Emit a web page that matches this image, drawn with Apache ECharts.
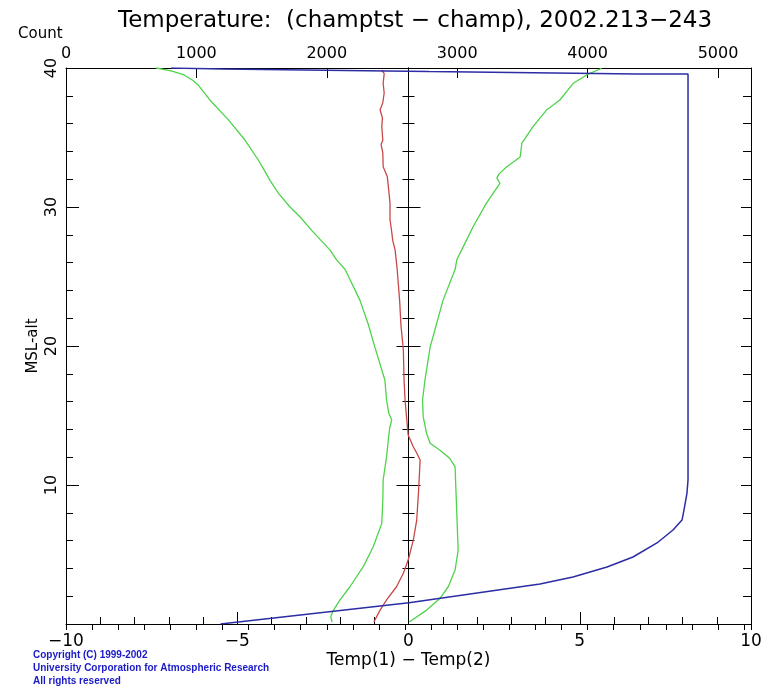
<!DOCTYPE html>
<html>
<head>
<meta charset="utf-8">
<script src="https://cdn.jsdelivr.net/npm/echarts@6/dist/echarts.min.js"></script>
<style>
  html, body { margin: 0; padding: 0; background: #fff; }
  #chart { width: 777px; height: 689px; }
</style>
</head>
<body>
<div id="chart"></div>
<script>
// Altitude profiles (km MSL) of the temperature difference champtst - champ

// Mean difference (red)
const meanAlt = [0.14, 1.0, 1.73, 2.68, 3.65, 4.6, 6.04, 7.48, 9.4, 11.8, 12.3, 12.75, 13.6, 14.7, 16.1, 17.55,
  19.7, 21.5, 23.3, 25.5, 26.2, 26.9, 27.6, 28.4, 29.1, 30.3, 31.5, 32.2, 32.9, 33.9, 34.5, 34.8, 35.8, 36.4,
  37.0, 37.5, 38.2, 38.9, 39.6, 39.85];
const meanDiff = [-1.01, -0.83, -0.64, -0.35, -0.15, -0.01, 0.14, 0.24, 0.29, 0.34, 0.24, 0.14, -0.01, -0.05, -0.10, -0.13,
  -0.15, -0.22, -0.26, -0.33, -0.36, -0.39, -0.46, -0.50, -0.54, -0.54, -0.59, -0.62, -0.74, -0.75, -0.80, -0.75, -0.78, -0.76,
  -0.83, -0.75, -0.71, -0.74, -0.71, -0.78];

// Mean minus one standard deviation (left green)
const lowAlt = [0.14, 0.53, 1.0, 1.73, 2.68, 4.12, 5.56, 7.24, 8.92, 10.36, 12.04, 13.24, 14.1, 14.68, 15.2, 16.1, 17.55,
  19.9, 21.6, 23.3, 25.5, 26.2, 26.9, 28.3, 29.3, 30.0, 31.0, 31.9, 32.6, 33.4, 34.8, 36.3, 37.7, 38.8, 39.1, 39.5, 39.8, 40.0];
const lowDiff = [-2.23, -2.27, -2.19, -2.0, -1.71, -1.32, -1.03, -0.78, -0.75, -0.74, -0.64, -0.59, -0.55, -0.49, -0.58, -0.64, -0.69,
  -0.98, -1.18, -1.42, -1.85, -2.10, -2.29, -2.82, -3.17, -3.46, -3.80, -4.04, -4.20, -4.39, -4.77, -5.27, -5.80, -6.15, -6.29, -6.55, -6.93, -7.37];

// Mean plus one standard deviation (right green)
const highAlt = [0.14, 1.0, 1.85, 2.68, 3.88, 5.32, 7.96, 11.3, 11.9, 12.5, 13.0, 13.7, 14.9, 16.1, 17.55,
  19.9, 21.6, 23.3, 25.5, 26.2, 27.4, 28.6, 30.3, 31.7, 32.1, 32.4, 32.9, 33.6, 34.6, 35.8, 37.0, 37.7, 38.9, 39.5, 39.98];
const highDiff = [0.02, 0.53, 0.92, 1.16, 1.36, 1.45, 1.41, 1.36, 1.21, 0.92, 0.63, 0.53, 0.43, 0.41, 0.48,
  0.63, 0.82, 1.01, 1.36, 1.41, 1.65, 1.89, 2.28, 2.67, 2.58, 2.65, 2.87, 3.26, 3.31, 3.64, 4.04, 4.42, 4.81, 5.20, 5.64];

// Number of samples per level (blue, top axis)
const countAlt = [0.0, 1.53, 2.88, 3.38, 4.10, 4.82, 5.83, 6.76, 7.48, 8.2, 9.42, 10.36,
  39.57, 39.57, 39.66, 39.66, 39.74, 39.74, 39.83, 39.83, 39.92, 39.92, 40.0, 40.0];
const countVal = [1185, 2630, 3635, 3888, 4149, 4348, 4532, 4655, 4724, 4739, 4762, 4770,
  4770, 4379, 4379, 3581, 3581, 2784, 2784, 1986, 1986, 1204, 1204, 805];

// Axis ranges and labels
const diffRange = [-10, 10];
const countRange = [0, 5253];
const altRange = [0, 40];
const titleText = 'Temperature:  (champtst \u2212 champ), 2002.213\u2212243';
const xName = 'Temp(1) \u2212 Temp(2)';
const yName = 'MSL-alt';
const countName = 'Count';
const copyrightLines = ['Copyright (C) 1999-2002', 'University Corporation for Atmospheric Research', 'All rights reserved'];

const FONT = 'DejaVu Sans';
const INK = '#000';
const pairs = (xs, ys) => xs.map((x, i) => [x, ys[i]]);
const numLabel = v => String(v).replace('-', '\u2212');

const chart = echarts.init(document.getElementById('chart'), null, { renderer: 'canvas' });

const lineAxis = { show: true, onZero: false, lineStyle: { color: INK, width: 1 } };
const zeroX = 408.5 - 66;

chart.setOption({
  animation: false,
  backgroundColor: '#fff',
  title: {
    text: titleText,
    left: 113,
    top: 5,
    textStyle: { fontFamily: FONT, fontSize: 23, fontWeight: 'normal', color: INK }
  },
  grid: { left: 66, right: 26, top: 68, bottom: 65, containLabel: false },
  xAxis: [
    {
      type: 'value', position: 'bottom', min: diffRange[0], max: diffRange[1], interval: 5,
      axisLine: lineAxis,
      axisTick: { show: true, inside: true, length: 12, lineStyle: { color: INK } },
      minorTick: { show: true, splitNumber: 5, length: 7, lineStyle: { color: INK } },
      splitLine: { show: false }, minorSplitLine: { show: false },
      axisLabel: { fontFamily: FONT, fontSize: 17, color: INK, margin: 9, formatter: numLabel },
      name: xName, nameLocation: 'middle', nameGap: 28, nameMoveOverlap: false,
      nameTextStyle: { fontFamily: FONT, fontSize: 17, color: INK }
    },
    {
      type: 'value', position: 'top', min: countRange[0], max: countRange[1], interval: 1000,
      axisLine: lineAxis,
      axisTick: { show: true, inside: true, length: 10, lineStyle: { color: INK } },
      splitLine: { show: false },
      axisLabel: { fontFamily: FONT, fontSize: 16, color: INK, margin: 6, showMaxLabel: false, formatter: numLabel }
    },
    {
      type: 'value', position: 'top', min: countRange[0], max: countRange[1], interval: 200,
      axisLine: { show: false },
      axisTick: { show: true, inside: true, length: 6, lineStyle: { color: INK } },
      splitLine: { show: false },
      axisLabel: { show: false }
    }
  ],
  yAxis: [
    {
      type: 'value', position: 'left', min: altRange[0], max: altRange[1], interval: 10,
      axisLine: lineAxis,
      axisTick: { show: true, inside: true, length: 13, lineStyle: { color: INK } },
      minorTick: { show: true, splitNumber: 5, length: 7, lineStyle: { color: INK } },
      splitLine: { show: false },
      axisLabel: { fontFamily: FONT, fontSize: 16, color: INK, rotate: 90, margin: 6, showMinLabel: false },
      name: yName, nameLocation: 'middle', nameRotate: 90, nameGap: 25, nameMoveOverlap: false,
      nameTextStyle: { fontFamily: FONT, fontSize: 15, color: INK }
    },
    {
      type: 'value', position: 'right', min: altRange[0], max: altRange[1], interval: 10,
      axisLine: lineAxis,
      axisTick: { show: true, inside: true, length: 10, lineStyle: { color: INK } },
      minorTick: { show: true, splitNumber: 5, length: 8, lineStyle: { color: INK } },
      splitLine: { show: false },
      axisLabel: { show: false }
    },
    {
      type: 'value', position: 'left', offset: -zeroX, min: altRange[0], max: altRange[1], interval: 10,
      axisLine: lineAxis,
      axisTick: { show: true, inside: true, length: 12, lineStyle: { color: INK } },
      minorTick: { show: true, splitNumber: 5, length: 6, lineStyle: { color: INK } },
      splitLine: { show: false },
      axisLabel: { show: false }
    },
    {
      type: 'value', position: 'left', offset: -zeroX, min: altRange[0], max: altRange[1], interval: 10,
      axisLine: lineAxis,
      axisTick: { show: true, inside: false, length: 12, lineStyle: { color: INK } },
      minorTick: { show: true, splitNumber: 5, length: 6, lineStyle: { color: INK } },
      splitLine: { show: false },
      axisLabel: { show: false }
    }
  ],
  series: [
    {
      name: 'low', type: 'line', xAxisIndex: 0, yAxisIndex: 0, showSymbol: false, symbol: 'none',
      data: pairs(lowDiff, lowAlt), lineStyle: { color: '#4ed34a', width: 1.3 }, z: 3
    },
    {
      name: 'high', type: 'line', xAxisIndex: 0, yAxisIndex: 0, showSymbol: false, symbol: 'none',
      data: pairs(highDiff, highAlt), lineStyle: { color: '#4ed34a', width: 1.3 }, z: 3
    },
    {
      name: 'mean', type: 'line', xAxisIndex: 0, yAxisIndex: 0, showSymbol: false, symbol: 'none',
      data: pairs(meanDiff, meanAlt), lineStyle: { color: '#c84848', width: 1.3 }, z: 3
    },
    {
      name: 'count', type: 'line', xAxisIndex: 1, yAxisIndex: 0, showSymbol: false, symbol: 'none',
      data: pairs(countVal, countAlt), lineStyle: { color: '#2c2ca4', width: 1.5 }, z: 4
    }
  ],
  graphic: [
    {
      type: 'text', left: 18, top: 27,
      style: { text: countName, fontFamily: FONT, fontSize: 15, fill: INK }
    },
    {
      type: 'text', left: 33, top: 649,
      style: {
        text: copyrightLines.join('\n'), fontFamily: 'Liberation Sans', fontSize: 10, fontWeight: 'bold',
        lineHeight: 13, fill: '#1a1ac8'
      }
    }
  ]
});
</script>
</body>
</html>
